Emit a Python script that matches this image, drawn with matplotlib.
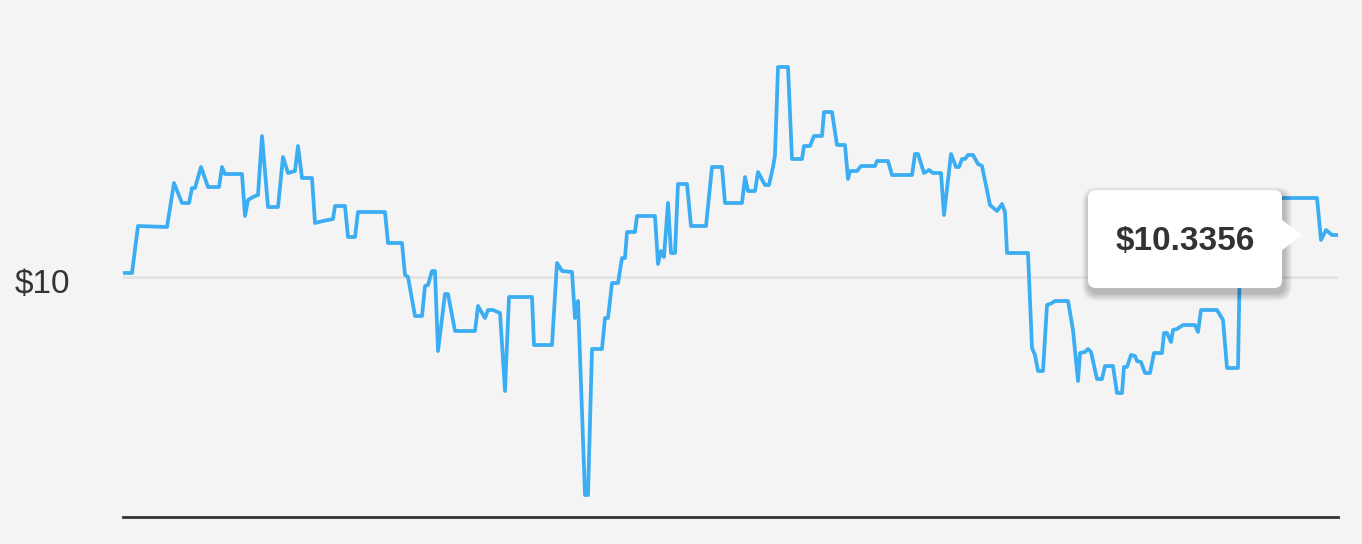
import matplotlib
matplotlib.use("Agg")
import matplotlib.pyplot as plt
from matplotlib.patches import FancyBboxPatch, Polygon
from matplotlib.transforms import IdentityTransform, ScaledTranslation

# time index (trading steps) and price in dollars
t = [1, 9, 15, 44, 51, 59, 66, 69, 72, 78, 85, 96, 99, 102, 119, 122, 125, 130, 135,
     139, 145, 155, 160, 165, 172, 175, 179, 189, 192, 200, 210, 212, 222, 225, 232,
     235, 262, 265, 279, 282, 285, 292, 299, 302, 305, 309, 312, 315, 322, 325, 332,
     352, 355, 362, 365, 370, 377, 382, 386, 409, 411, 429, 434, 439, 449, 452, 455,
     462, 465, 469, 479, 482, 485, 489, 495, 499, 502, 504, 512, 514, 532, 535, 538,
     541, 545, 548, 552, 555, 564, 568, 583, 589, 599, 602, 619, 622, 625, 632, 635,
     642, 646, 650, 652, 655, 665, 669, 679, 681, 687, 691, 699, 701, 709, 714, 722,
     725, 727, 734, 738, 752, 754, 765, 769, 789, 792, 795, 801, 806, 810, 818, 821,
     828, 833, 836, 839, 842, 845, 850, 855, 859, 867, 874, 879, 882, 884, 905, 909,
     912, 915, 920, 924, 929, 932, 945, 950, 955, 957, 962, 965, 968, 974, 979, 982,
     990, 994, 999, 1001, 1004, 1008, 1012, 1014, 1018, 1022, 1027, 1031, 1039, 1041,
     1044, 1048, 1050, 1054, 1060, 1072, 1075, 1078, 1094, 1100, 1104, 1115, 1118,
     1194, 1198, 1203, 1209, 1215]
price = [10.032, 10.032, 10.408, 10.400, 10.752, 10.592, 10.592, 10.712, 10.712,
         10.880, 10.720, 10.720, 10.880, 10.824, 10.824, 10.488, 10.616, 10.640, 10.656,
         11.128, 10.560, 10.560, 10.960, 10.832, 10.848, 11.048, 10.792, 10.792, 10.432,
         10.448, 10.464, 10.568, 10.568, 10.320, 10.320, 10.520, 10.520, 10.272, 10.272,
         10.016, 10.000, 9.688, 9.688, 9.928, 9.936, 10.048, 10.048, 9.408, 9.864, 9.864,
         9.568, 9.568, 9.768, 9.672, 9.736, 9.736, 9.712, 9.088, 9.840, 9.840, 9.456,
         9.456, 10.112, 10.048, 10.040, 9.672, 9.808, 8.256, 8.256, 9.424, 9.424, 9.672,
         9.672, 9.952, 9.952, 10.152, 10.152, 10.360, 10.360, 10.488, 10.488, 10.104,
         10.208, 10.160, 10.592, 10.192, 10.192, 10.744, 10.744, 10.408, 10.408, 10.880,
         10.880, 10.592, 10.592, 10.800, 10.688, 10.688, 10.840, 10.736, 10.736, 10.880,
         10.976, 11.680, 11.680, 10.944, 10.944, 11.048, 11.048, 11.128, 11.128, 11.320,
         11.320, 11.056, 11.056, 10.784, 10.848, 10.848, 10.888, 10.888, 10.928, 10.928,
         10.816, 10.816, 10.984, 10.984, 10.832, 10.856, 10.832, 10.832, 10.496, 10.984,
         10.880, 10.880, 10.944, 10.944, 10.976, 10.976, 10.904, 10.888, 10.576, 10.528,
         10.584, 10.520, 10.192, 10.192, 9.432, 9.376, 9.248, 9.248, 9.776, 9.792, 9.808,
         9.808, 9.576, 9.168, 9.392, 9.400, 9.424, 9.400, 9.184, 9.184, 9.288, 9.288,
         9.072, 9.072, 9.280, 9.280, 9.376, 9.368, 9.328, 9.320, 9.232, 9.232, 9.392,
         9.392, 9.552, 9.552, 9.480, 9.576, 9.584, 9.616, 9.616, 9.560, 9.736, 9.736,
         9.656, 9.272, 9.272, 10.632, 10.632, 10.296, 10.376, 10.336, 10.3356]

Y_TICKS = [10]
Y_LABELS = ["$10"]
TOOLTIP = "$10.3356"

BG = "#f4f4f4"
LINE = "#3badf2"
W, H = 1362, 544

fig = plt.figure(figsize=(W / 100, H / 100), dpi=100, facecolor=BG)
ax = fig.add_axes([123 / W, 27 / H, 1215 / W, 517 / H])
ax.set_facecolor(BG)

ax.plot(t, price, color=LINE, linewidth=2.7, solid_joinstyle="round",
        solid_capstyle="round", zorder=3)

ax.set_xlim(0, 1215)
ax.set_ylim(8.08, 12.216)
ax.axhline(10, color="#e2e2e2", linewidth=1.8, zorder=1)

for s in ["top", "left", "right"]:
    ax.spines[s].set_visible(False)
ax.spines["bottom"].set_color("#333333")
ax.spines["bottom"].set_linewidth(2.0)
ax.set_xticks([])
ax.set_yticks(Y_TICKS)
ax.set_yticklabels(Y_LABELS, fontsize=24, color="#333333", family="Liberation Sans")
ax.tick_params(axis="y", length=0, pad=38)
shift = ScaledTranslation(0, -4 / 100, fig.dpi_scale_trans)
for lab in ax.get_yticklabels():
    lab.set_transform(lab.get_transform() + shift)

# tooltip anchored to the last point (pixel offsets)
fig.canvas.draw()
ax_, ay_ = ax.transData.transform((t[-1], price[-1]))
bx0, bx1 = ax_ - 250, ax_ - 56
by0, by1 = ay_ - 53, ay_ + 45
tip = ax_ - 36
ident = IdentityTransform()

for i in range(8, 0, -1):
    sh = FancyBboxPatch((bx0 + 2 - i, by0 - 5 - i), (bx1 - bx0) + 2 * i, (by1 - by0) + 2 * i,
                        boxstyle="round,pad=0,rounding_size=%d" % (8 + i),
                        transform=ident, facecolor="black", edgecolor="none",
                        alpha=0.03, zorder=10)
    fig.add_artist(sh)

box = FancyBboxPatch((bx0, by0), bx1 - bx0, by1 - by0,
                     boxstyle="round,pad=0,rounding_size=8",
                     transform=ident, facecolor="white", edgecolor="none", zorder=11)
fig.add_artist(box)
arrow = Polygon([[bx1 - 1, ay_ + 16], [tip, ay_], [bx1 - 1, ay_ - 16]], closed=True,
                transform=ident, facecolor="white", edgecolor="none", zorder=11)
fig.add_artist(arrow)
fig.text((bx0 + bx1) / 2 / W, (ay_ - 6) / H, TOOLTIP, fontsize=24, fontweight="bold",
         color="#333333", family="Liberation Sans", ha="center", va="center", zorder=12)

fig.savefig("out.png", dpi=100, facecolor=BG)
